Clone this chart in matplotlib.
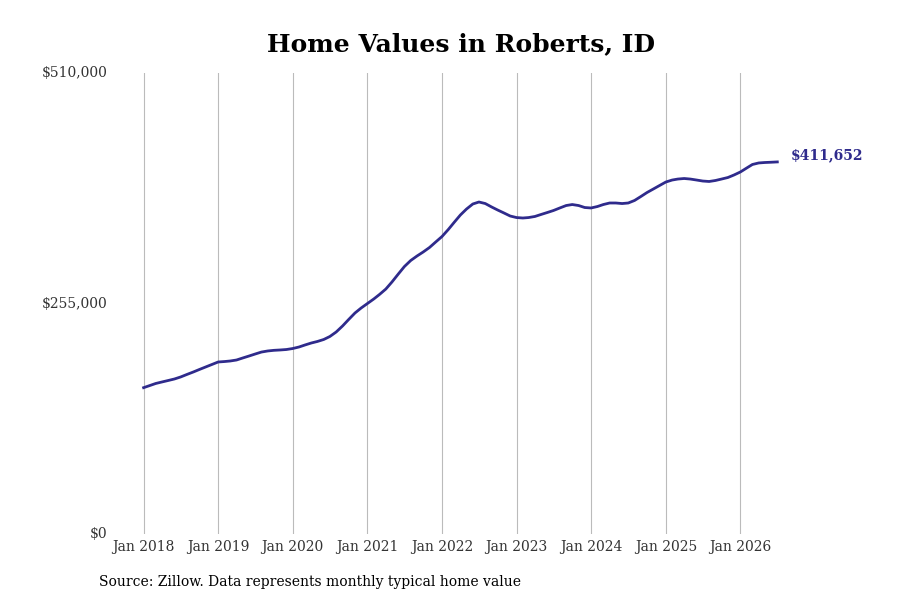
import numpy as np
import pandas as pd
from matplotlib import pyplot as plt
import matplotlib.ticker as mticker

plt.rcParams['font.family'] = ['DejaVu Serif']

# monthly typical home value, Jan 2018 - Jul 2026
months = pd.date_range('2018-01-01', periods=103, freq='MS')
values = [
    161900, 164300, 166500, 168200, 169800, 171500, 173700, 176500, 179200, 182000, 184800, 187500,
    190300, 190800, 191400, 192500, 194700, 196900, 199100, 201300, 202500, 203200, 203600, 204100,
    205200, 206900, 209100, 211300, 213000, 215200, 218500, 223500, 230100, 237300, 244500, 250000,
    255000, 260000, 265000, 271000, 278800, 287600, 295900, 302600, 307600, 312000, 317000, 323000,
    329100, 336900, 344600, 352900, 359500, 365100, 367300, 365600, 361800, 358400, 355100, 351800,
    350100, 349600, 350100, 351300, 353500, 355700, 357900, 360700, 363400, 364500, 363400, 361200,
    360700, 362300, 364500, 366200, 366200, 365600, 366200, 369000, 373400, 377800, 381700, 385500,
    389400, 391600, 392700, 393300, 392700, 391600, 390500, 390000, 391100, 392700, 394400, 397200,
    400500, 404900, 408800, 410500, 411000, 411300, 411652,
]
tick_years = list(range(2018, 2027))
tick_labels = ['Jan %d' % y for y in tick_years]
y_ticks = [0, 255000, 510000]
line_color = '#2f2b8c'

fig = plt.figure(figsize=(9, 6), dpi=100)
ax = fig.add_axes([0.1194, 0.11, 0.8548, 0.7683])

ax.plot(months, values, color=line_color, linewidth=2)

ax.set_ylim(0, 510000)
ax.set_yticks(y_ticks)
ax.yaxis.set_major_formatter(mticker.FuncFormatter(lambda v, p: '${:,.0f}'.format(v)))

tick_dates = [pd.Timestamp('%d-01-01' % y) for y in tick_years]
ax.set_xticks(tick_dates)
ax.set_xticklabels(tick_labels)
ax.set_xlim(pd.Timestamp('2018-01-01') - pd.Timedelta(days=177),
            pd.Timestamp('2018-01-01') + pd.Timedelta(days=3590))

ax.grid(axis='x', color='#bbbbbb', linewidth=0.8)
ax.grid(axis='y', visible=False)
for s in ax.spines.values():
    s.set_visible(False)
ax.tick_params(axis='both', length=0, labelsize=10, colors='#333333')
ax.tick_params(axis='y', pad=0)
ax.tick_params(axis='x', pad=4)
for lbl in ax.get_yticklabels():
    lbl.set_verticalalignment('center')

ax.annotate('${:,.0f}'.format(values[-1]), xy=(months[-1], values[-1]),
            xytext=(10, 4.5), textcoords='offset points',
            color=line_color, fontsize=10, fontweight='bold', va='center', ha='left')

fig.text(0.512, 0.927, 'Home Values in Roberts, ID', ha='center', va='center',
         fontsize=18, fontweight='bold')
fig.text(0.11, 0.03, 'Source: Zillow. Data represents monthly typical home value',
         ha='left', va='center', fontsize=10)

plt.savefig('out.png')
